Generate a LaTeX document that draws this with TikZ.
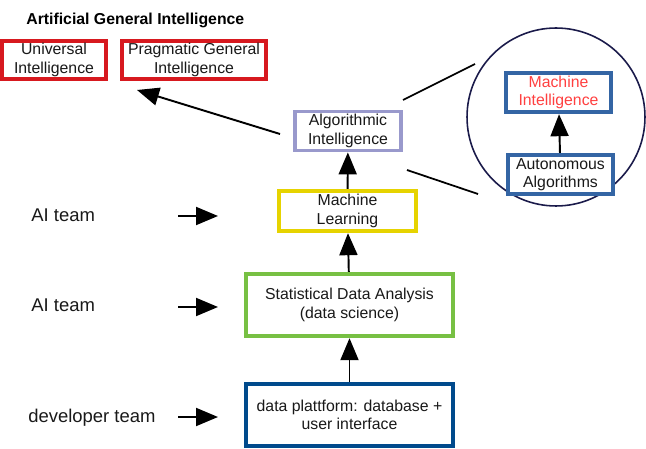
\documentclass[tikz,border=0pt]{standalone}
\usepackage{fontspec}
\setmainfont{Liberation Sans}
\usetikzlibrary{positioning, arrows.meta}

\definecolor{agired}{HTML}{D7191F}
\definecolor{algviolet}{HTML}{9999CC}
\definecolor{mlyellow}{HTML}{E6D300}
\definecolor{sdagreen}{HTML}{77C043}
\definecolor{dpblue}{HTML}{004A8C}
\definecolor{miblue}{HTML}{3465A4}
\definecolor{mired}{HTML}{FF4040}
\definecolor{circnavy}{HTML}{1A1A4A}

\begin{document}
\begin{tikzpicture}[
        x=0.02cm, y=-0.02cm,
        stagebox/.style={rectangle, draw, line width=2.5pt, fill=white, align=center, inner sep=1pt, font=\fontsize{9}{10.4}\selectfont, text=black!90},
        teamlabel/.style={anchor=west, inner sep=0pt, font=\fontsize{10.5}{12}\selectfont, text=black!90},
        arr/.style={-{Triangle[length=0.44cm, width=0.36cm]}, line width=1.1pt},
        zoomline/.style={line width=1pt},
    ]
        \useasboundingbox (0,0) rectangle (646,449);

        % AGI level (top)
        \node[anchor=west, inner sep=0pt, font=\fontsize{9}{10.4}\selectfont\bfseries] (agi) at (26,20) {Artificial General Intelligence};
        \node[stagebox, draw=agired, minimum width=2.08cm, minimum height=0.76cm] (uni) at (54,60) {Universal\\Intelligence};
        \node[stagebox, draw=agired, minimum width=2.88cm, minimum height=0.76cm] (prag) at (194,60) {Pragmatic General\\Intelligence};

        % main stack
        \node[stagebox, draw=algviolet, line width=2.2pt, minimum width=2.12cm, minimum height=0.78cm] (alg) at (348,131) {Algorithmic\\Intelligence};
        \node[stagebox, draw=mlyellow, minimum width=2.74cm, minimum height=0.80cm] (ml) at (347.5,211) {Machine\\Learning};
        \node[stagebox, draw=sdagreen, minimum width=4.14cm, minimum height=1.24cm] (sda) at (349.5,305) {Statistical Data Analysis\\(data science)};
        \node[stagebox, draw=dpblue, minimum width=4.14cm, minimum height=1.24cm] (dp) at (349.5,415) {data plattform: database +\\user interface};

        % zoom circle
        \node[circle, draw=circnavy, line width=0.9pt, minimum size=3.56cm] (zoom) at (556,117) {};
        \node[stagebox, draw=miblue, text=mired, minimum width=2.10cm, minimum height=0.78cm] (mi) at (558.5,92.5) {Machine\\Intelligence};
        \node[stagebox, draw=miblue, minimum width=2.10cm, minimum height=0.78cm] (aa) at (560.5,174.5) {Autonomous\\Algorithms};

        % teams
        \node[teamlabel] (team1) at (31,215) {AI team};
        \node[teamlabel] (team2) at (31,305) {AI team};
        \node[teamlabel] (team3) at (28,418) {developer team};
        \coordinate (t1a) at (178,216);
        \coordinate (t1b) at (218,216);
        \coordinate (t2a) at (178,307);
        \coordinate (t2b) at (218,307);
        \coordinate (t3a) at (178,417);
        \coordinate (t3b) at (218,417);

        % zoom lines
        \coordinate (z1a) at (403,100);
        \coordinate (z1b) at (475,64);
        \coordinate (z2a) at (407,170);
        \coordinate (z2b) at (478,194);
        \coordinate (agitail) at (280,134);
        \coordinate (agitip) at (137,90);

        % Arrows
        \draw[arr] (dp) -- (sda);
        \draw[arr] (sda) -- (ml);
        \draw[arr] (ml) -- (alg);
        \draw[arr] (aa) -- (mi);
        \draw[arr] (agitail) -- (agitip);
        \draw[arr] (t1a) -- (t1b);
        \draw[arr] (t2a) -- (t2b);
        \draw[arr] (t3a) -- (t3b);

        \draw[zoomline] (z1a) -- (z1b);
        \draw[zoomline] (z2a) -- (z2b);
    \end{tikzpicture}
\end{document}
